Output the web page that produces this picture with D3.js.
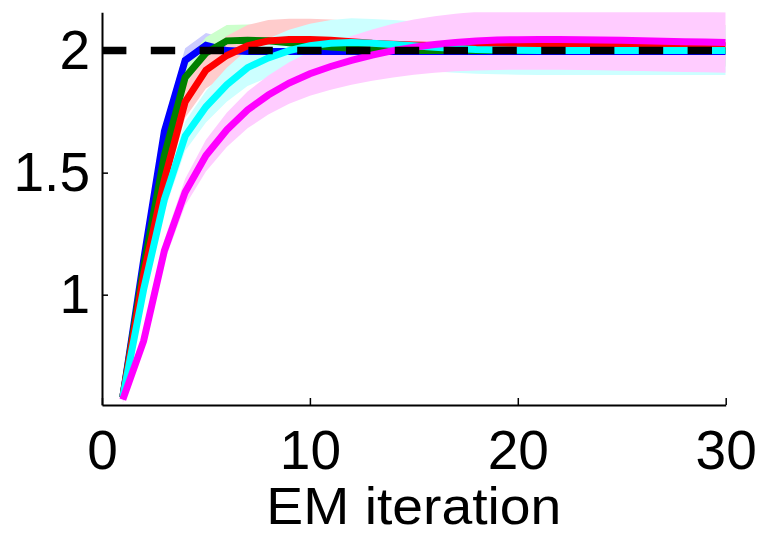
<!DOCTYPE html>
<html>
<head>
    <script src="https://d3js.org/d3.v7.min.js"></script>
    <style>
        body { margin: 0; background: #fff; }
        text { font-family: "Liberation Sans", Arial, sans-serif; }
    </style>
</head>
<body>
<div id="chart"></div>
<script>
    const width = 761, height = 535;

    // data
    const iterations = [1, 2, 3, 4, 5, 6, 7, 8, 9, 10, 11, 12, 13, 14, 15, 16, 17, 18, 19, 20, 21, 22, 23, 24, 25, 26, 27, 28, 29, 30];
    const blueMean = [0.58, 1.14, 1.67, 1.96, 2.022, 2.0, 1.996, 1.996, 1.996, 1.996, 1.996, 1.996, 1.996, 1.996, 1.996, 1.996, 1.996, 1.996, 1.996, 1.996, 1.996, 1.996, 1.996, 1.996, 1.996, 1.996, 1.996, 1.996, 1.996, 1.996];
    const greenMean = [0.58, 1.11, 1.57, 1.89, 1.99, 2.04, 2.042, 2.04, 2.032, 2.022, 2.015, 2.01, 2.006, 2.003, 2.0, 2.0, 2.0, 2.0, 2.0, 2.0, 2.0, 2.0, 2.0, 2.0, 2.0, 2.0, 2.0, 2.0, 2.0, 2.0];
    const redMean = [0.58, 1.08, 1.47, 1.79, 1.92, 1.98, 2.02, 2.04, 2.046, 2.046, 2.042, 2.036, 2.03, 2.026, 2.023, 2.021, 2.02, 2.02, 2.02, 2.02, 2.02, 2.02, 2.02, 2.02, 2.02, 2.02, 2.02, 2.02, 2.02, 2.02];
    const cyanMean = [0.58, 1.02, 1.39, 1.65, 1.77, 1.86, 1.93, 1.97, 2.0, 2.02, 2.03, 2.033, 2.03, 2.025, 2.02, 2.014, 2.009, 2.005, 2.003, 2.001, 2.0, 2.0, 2.0, 2.0, 2.0, 2.0, 2.0, 2.0, 2.0, 2.0];
    const magentaMean = [0.57, 0.81, 1.18, 1.42, 1.57, 1.675, 1.757, 1.818, 1.867, 1.905, 1.935, 1.96, 1.982, 2.0, 2.014, 2.025, 2.033, 2.039, 2.043, 2.045, 2.046, 2.046, 2.045, 2.044, 2.042, 2.04, 2.038, 2.036, 2.035, 2.033];

    const blueSpread = [0.01, 0.03, 0.04, 0.05, 0.05, 0.05, 0.05, 0.05, 0.05, 0.05, 0.05, 0.05, 0.05, 0.05, 0.05, 0.05, 0.05, 0.05, 0.05, 0.05, 0.05, 0.05, 0.05, 0.05, 0.05, 0.05, 0.05, 0.05, 0.05, 0.05];
    const greenSpread = [0.01, 0.03, 0.05, 0.06, 0.065, 0.065, 0.065, 0.065, 0.065, 0.065, 0.065, 0.065, 0.065, 0.065, 0.065, 0.065, 0.065, 0.065, 0.065, 0.065, 0.065, 0.065, 0.065, 0.065, 0.065, 0.065, 0.065, 0.065, 0.065, 0.065];
    const redSpread = [0.01, 0.03, 0.05, 0.065, 0.075, 0.08, 0.085, 0.085, 0.085, 0.085, 0.085, 0.085, 0.085, 0.085, 0.085, 0.085, 0.085, 0.085, 0.085, 0.085, 0.085, 0.085, 0.085, 0.085, 0.085, 0.085, 0.085, 0.085, 0.085, 0.085];
    const cyanSpread = [0.01, 0.03, 0.05, 0.06, 0.065, 0.07, 0.075, 0.08, 0.085, 0.09, 0.095, 0.1, 0.1, 0.1, 0.1, 0.1, 0.1, 0.1, 0.1, 0.1, 0.1, 0.1, 0.1, 0.1, 0.1, 0.1, 0.1, 0.1, 0.1, 0.1];
    const magentaSpread = [0.015, 0.03, 0.045, 0.055, 0.065, 0.07, 0.075, 0.08, 0.085, 0.09, 0.095, 0.1, 0.105, 0.11, 0.113, 0.116, 0.118, 0.12, 0.122, 0.123, 0.124, 0.124, 0.124, 0.124, 0.124, 0.124, 0.124, 0.124, 0.124, 0.124];

    const trueValue = 2;
    const xTicks = [0, 10, 20, 30];
    const yTicks = [1, 1.5, 2];
    const xLabel = "EM iteration";

    const series = [
        { mean: blueMean, spread: blueSpread, color: "#0000ff", band: "#ccccff" },
        { mean: greenMean, spread: greenSpread, color: "#008000", band: "#ccffcc" },
        { mean: redMean, spread: redSpread, color: "#ff0000", band: "#ffcccc" },
        { mean: cyanMean, spread: cyanSpread, color: "#00ffff", band: "#ccffff" },
        { mean: magentaMean, spread: magentaSpread, color: "#ff00ff", band: "#ffccff" }
    ];

    const plotLeft = 102, plotRight = 725.7, plotTop = 12.3, plotBottom = 405;

    const x = d3.scaleLinear().domain([0, 30]).range([plotLeft, plotRight]);
    const y = d3.scaleLinear().domain([0.548, 2.157]).range([plotBottom, plotTop]);

    const svg = d3.select("#chart").append("svg")
        .attr("width", width)
        .attr("height", height);

    svg.append("clipPath").attr("id", "plot-clip")
        .append("rect")
        .attr("x", plotLeft).attr("y", plotTop)
        .attr("width", plotRight - plotLeft).attr("height", plotBottom - plotTop);

    const plot = svg.append("g").attr("clip-path", "url(#plot-clip)");

    // shaded bands first, all lines on top
    series.forEach(s => {
        const pts = iterations.map((it, i) => ({ it: it, lo: s.mean[i] - s.spread[i], hi: s.mean[i] + s.spread[i] }));
        plot.append("path")
            .datum(pts)
            .attr("fill", s.band)
            .attr("stroke", "none")
            .attr("d", d3.area().x(d => x(d.it)).y0(d => y(d.lo)).y1(d => y(d.hi)));
    });

    series.forEach(s => {
        plot.append("path")
            .datum(iterations.map((it, i) => [it, s.mean[i]]))
            .attr("fill", "none")
            .attr("stroke", s.color)
            .attr("stroke-width", 7)
            .attr("d", d3.line().x(d => x(d[0])).y(d => y(d[1])));
    });

    // true value
    plot.append("line")
        .attr("x1", x(0)).attr("x2", x(30))
        .attr("y1", y(trueValue)).attr("y2", y(trueValue))
        .attr("stroke", "#000")
        .attr("stroke-width", 7.5)
        .attr("stroke-dasharray", "24.4,24.4");

    // axes
    const xAxis = svg.append("g")
        .attr("transform", "translate(0," + plotBottom + ")")
        .call(d3.axisBottom(x).tickValues(xTicks).tickSizeInner(-7).tickSizeOuter(0).tickPadding(25));

    const yAxis = svg.append("g")
        .attr("transform", "translate(" + plotLeft + ",0)")
        .call(d3.axisLeft(y).tickValues(yTicks).tickFormat(d3.format("")).tickSizeInner(-6).tickSizeOuter(0).tickPadding(12));

    [xAxis, yAxis].forEach(a => {
        a.select(".domain").attr("stroke", "#000").attr("stroke-width", 2);
        a.selectAll(".tick line").attr("stroke", "#000").attr("stroke-width", 1.5);
        a.selectAll("text")
            .attr("fill", "#000")
            .style("font-family", "'Liberation Sans', Arial, sans-serif")
            .style("font-size", "55px");
    });

    svg.append("text")
        .attr("x", (plotLeft + plotRight) / 2)
        .attr("y", 524)
        .attr("text-anchor", "middle")
        .attr("textLength", 295)
        .attr("lengthAdjust", "spacingAndGlyphs")
        .style("font-size", "52px")
        .text(xLabel);
</script>
</body>
</html>
